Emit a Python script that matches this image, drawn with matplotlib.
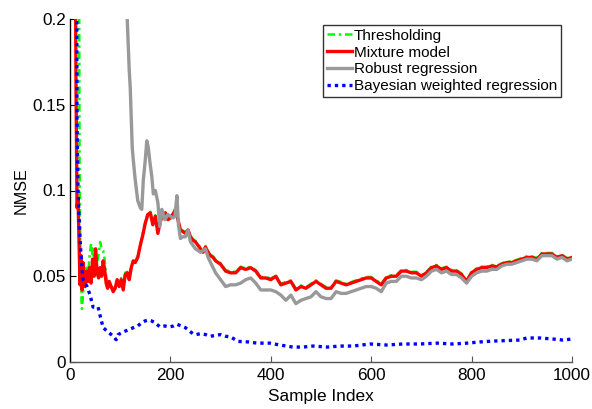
import matplotlib
matplotlib.use("Agg")
import matplotlib.pyplot as plt

plt.rcParams['font.family'] = ['Liberation Sans', 'DejaVu Sans']

# ---------------- data ----------------
x_mix = [8, 12, 14, 16, 18, 20, 22, 24, 26, 28, 30, 33, 36, 39, 42, 45, 48, 51, 54, 57,
         60, 63, 66, 69, 72, 75, 78, 82, 86, 90, 94, 98, 102, 106, 110, 114, 118, 122, 126, 130,
         135, 140, 145, 150, 155, 160, 165, 170, 175, 180, 185, 190, 195, 200, 205, 210, 215, 220, 225, 230,
         235, 240, 245, 250, 255, 260, 265, 270, 275, 280, 285, 290, 295, 300, 310, 320, 330, 340, 350, 360,
         370, 380, 390, 400, 410, 420, 430, 440, 450, 460, 470, 480, 490, 500, 510, 520, 530, 540, 550, 560,
         570, 580, 590, 600, 610, 620, 630, 640, 650, 660, 670, 680, 690, 700, 710, 720, 730, 740, 750, 760,
         770, 780, 790, 800, 810, 820, 830, 840, 850, 860, 870, 880, 890, 900, 910, 920, 930, 940, 950, 960,
         970, 980, 990, 1000]
y_mix = [0.40, 0.16, 0.09, 0.095, 0.07, 0.045, 0.062, 0.042, 0.058, 0.05, 0.044, 0.053, 0.047, 0.055, 0.046, 0.06, 0.05, 0.066, 0.052, 0.049,
         0.055, 0.05, 0.059, 0.054, 0.046, 0.043, 0.047, 0.044, 0.041, 0.043, 0.048, 0.044, 0.048, 0.042, 0.051, 0.052, 0.048, 0.055, 0.059, 0.058,
         0.061, 0.068, 0.074, 0.081, 0.086, 0.087, 0.080, 0.085, 0.075, 0.082, 0.086, 0.087, 0.083, 0.084, 0.086, 0.089, 0.083, 0.077, 0.076, 0.075,
         0.077, 0.073, 0.071, 0.070, 0.068, 0.066, 0.064, 0.067, 0.064, 0.062, 0.061, 0.059, 0.058, 0.057, 0.053, 0.052, 0.052, 0.055, 0.054, 0.055,
         0.053, 0.049, 0.049, 0.048, 0.050, 0.045, 0.046, 0.047, 0.042, 0.044, 0.043, 0.045, 0.047, 0.045, 0.043, 0.043, 0.047, 0.046, 0.045, 0.046,
         0.047, 0.048, 0.049, 0.049, 0.047, 0.045, 0.049, 0.050, 0.050, 0.053, 0.053, 0.052, 0.052, 0.050, 0.052, 0.055, 0.056, 0.054, 0.055, 0.053,
         0.053, 0.051, 0.047, 0.052, 0.054, 0.055, 0.055, 0.056, 0.0555, 0.057, 0.058, 0.058, 0.059, 0.060, 0.061, 0.061, 0.060, 0.063, 0.063, 0.063,
         0.061, 0.062, 0.060, 0.061]

x_thr = [17, 19, 20, 21, 22, 23, 24, 26, 28, 30, 33, 36, 39, 42, 44, 46, 48, 51, 54, 57,
         60, 63, 66, 69, 72, 75, 78, 82, 86, 90, 94, 98, 102, 106, 110, 114, 118, 122, 126, 130,
         135, 140, 145, 150, 155, 160, 165, 170, 175, 180, 185, 190, 195, 200, 205, 210, 215, 220, 225, 230,
         235, 240, 245, 250, 255, 260, 265, 270, 275, 280, 285, 290, 295, 300, 310, 320, 330, 340, 350, 360,
         370, 380, 390, 400, 410, 420, 430, 440, 450, 460, 470, 480, 490, 500, 510, 520, 530, 540, 550, 560,
         570, 580, 590, 600, 610, 620, 630, 640, 650, 660, 670, 680, 690, 700, 710, 720, 730, 740, 750, 760,
         770, 780, 790, 800, 810, 820, 830, 840, 850, 860, 870, 880, 890, 900, 910, 920, 930, 940, 950, 960,
         970, 980, 990, 1000]
y_thr = [0.40, 0.12, 0.08, 0.06, 0.045, 0.035, 0.031, 0.040, 0.048, 0.050, 0.055, 0.050, 0.062, 0.069, 0.063, 0.066, 0.058, 0.062, 0.058, 0.063,
         0.070, 0.066, 0.065, 0.060, 0.050, 0.046, 0.047, 0.045, 0.042, 0.044, 0.049, 0.045, 0.049, 0.043, 0.052, 0.0526, 0.0486, 0.0556, 0.0596, 0.0586,
         0.0616, 0.0686, 0.0746, 0.0816, 0.0866, 0.0876, 0.0806, 0.0856, 0.0756, 0.0826, 0.0866, 0.0876, 0.0836, 0.0846, 0.0866, 0.0896, 0.0836, 0.0776, 0.0766, 0.0756,
         0.0776, 0.0736, 0.0716, 0.0706, 0.0686, 0.0666, 0.0646, 0.0676, 0.0646, 0.0626, 0.0616, 0.0596, 0.0586, 0.0576, 0.0536, 0.0526, 0.0526, 0.0556, 0.0546, 0.0556,
         0.0536, 0.0496, 0.0496, 0.0486, 0.0506, 0.0456, 0.0466, 0.0476, 0.0426, 0.0446, 0.0436, 0.0456, 0.0476, 0.0456, 0.0436, 0.0436, 0.0476, 0.0466, 0.0456, 0.0466,
         0.0476, 0.0486, 0.0496, 0.0496, 0.0476, 0.0456, 0.0496, 0.0506, 0.0506, 0.0536, 0.0536, 0.0526, 0.0526, 0.0506, 0.0526, 0.0556, 0.0566, 0.0546, 0.0556, 0.0536,
         0.0536, 0.0516, 0.0476, 0.0526, 0.0546, 0.0556, 0.0556, 0.0566, 0.0561, 0.0576, 0.0586, 0.0586, 0.0596, 0.0606, 0.0616, 0.0616, 0.0606, 0.0636, 0.0636, 0.0636,
         0.0616, 0.0626, 0.0606, 0.0616]

x_rob = [112, 114, 118, 120, 124, 126, 130, 135, 140, 143, 146, 150, 153, 156, 159, 163, 166, 170, 175, 179,
         183, 189, 195, 200, 205, 209, 213, 216, 220, 225, 230, 235, 240, 245, 250, 255, 260, 265, 270, 275,
         280, 285, 290, 295, 300, 310, 320, 330, 340, 350, 360, 370, 380, 390, 400, 410, 420, 430, 440, 450,
         460, 470, 480, 490, 500, 510, 520, 530, 540, 550, 560, 570, 580, 590, 600, 610, 620, 630, 640, 650,
         660, 670, 680, 690, 700, 710, 720, 730, 740, 750, 760, 770, 780, 790, 800, 810, 820, 830, 840, 850,
         860, 870, 880, 890, 900, 910, 920, 930, 940, 950, 960, 970, 980, 990, 1000]
y_rob = [0.215, 0.200, 0.170, 0.160, 0.125, 0.118, 0.106, 0.094, 0.090, 0.089, 0.106, 0.118, 0.129, 0.125, 0.117, 0.108, 0.098, 0.100, 0.093, 0.079,
         0.089, 0.083, 0.086, 0.085, 0.084, 0.085, 0.097, 0.080, 0.072, 0.073, 0.073, 0.077, 0.070, 0.068, 0.066, 0.065, 0.064, 0.065, 0.066, 0.061,
         0.058, 0.055, 0.052, 0.050, 0.048, 0.044, 0.045, 0.045, 0.046, 0.048, 0.049, 0.046, 0.042, 0.042, 0.042, 0.041, 0.039, 0.036, 0.039, 0.034,
         0.036, 0.037, 0.038, 0.041, 0.038, 0.037, 0.037, 0.041, 0.040, 0.040, 0.041, 0.042, 0.043, 0.044, 0.044, 0.043, 0.041, 0.046, 0.047, 0.047,
         0.050, 0.050, 0.049, 0.049, 0.048, 0.050, 0.053, 0.054, 0.052, 0.053, 0.051, 0.051, 0.049, 0.046, 0.050, 0.052, 0.053, 0.053, 0.054, 0.054,
         0.056, 0.057, 0.057, 0.058, 0.059, 0.060, 0.060, 0.059, 0.062, 0.062, 0.062, 0.060, 0.061, 0.059, 0.060]

x_bay = [12, 14, 15, 16, 18, 20, 22, 24, 26, 30, 34, 40, 46, 52, 56, 60, 66, 70, 76, 86,
         92, 96, 106, 118, 126, 135, 143, 150, 156, 162, 169, 179, 189, 199, 206, 213, 222, 230, 238, 245,
         252, 259, 270, 279, 290, 300, 310, 320, 335, 355, 373, 398, 418, 444, 464, 484, 512, 538, 564, 598,
         631, 663, 697, 731, 763, 791, 817, 843, 870, 896, 910, 936, 962, 982, 1000]
y_bay = [0.35, 0.14, 0.12, 0.10, 0.085, 0.072, 0.062, 0.054, 0.048, 0.046, 0.044, 0.039, 0.032, 0.032, 0.032, 0.027, 0.020, 0.019, 0.0175, 0.015,
         0.013, 0.016, 0.0175, 0.019, 0.020, 0.021, 0.023, 0.024, 0.0245, 0.024, 0.023, 0.0205, 0.021, 0.0205, 0.021, 0.022, 0.021, 0.020, 0.018, 0.0165,
         0.016, 0.0165, 0.016, 0.015, 0.0155, 0.016, 0.015, 0.0146, 0.012, 0.0117, 0.011, 0.011, 0.0099, 0.0087, 0.0087, 0.0093, 0.0087, 0.0093, 0.0093, 0.0105,
         0.0099, 0.0105, 0.0105, 0.011, 0.0105, 0.011, 0.0117, 0.0122, 0.0125, 0.0128, 0.014, 0.014, 0.0134, 0.0128, 0.0134]

labels = ['Thresholding', 'Mixture model', 'Robust regression', 'Bayesian weighted regression']
x_ticks = [0, 200, 400, 600, 800, 1000]
y_ticks = [0, 0.05, 0.1, 0.15, 0.2]
y_ticklabels = ['0', '0.05', '0.1', '0.15', '0.2']

# ---------------- plot ----------------
fig = plt.figure(figsize=(5.92, 4.09), dpi=100)
ax = fig.add_axes([70/592, 1-362/409, 502/592, 343/409])

ax.plot(x_thr, y_thr, color='#00ff00', lw=1.8, linestyle=(0, (3.0, 1.5, 1.0, 1.5)), label=labels[0])
ax.plot(x_mix, y_mix, color='#ff0000', lw=2.4, label=labels[1])
ax.plot(x_rob, y_rob, color='#999999', lw=2.4, label=labels[2])
ax.plot(x_bay, y_bay, color='#0000ff', lw=2.4, linestyle=(0, (1.0, 1.2)), label=labels[3])

ax.set_xlim(0, 1000)
ax.set_ylim(0, 0.2)
ax.set_xticks(x_ticks)
ax.set_yticks(y_ticks)
ax.set_yticklabels(y_ticklabels)
ax.tick_params(direction='in', length=4, labelsize=12.3, width=0.8)
ax.tick_params(axis='x', colors='#555555', labelcolor='black', pad=4)
ax.tick_params(axis='y', pad=3)
ax.spines['top'].set_visible(False)
ax.spines['right'].set_visible(False)
ax.spines['left'].set_linewidth(1.0)
ax.spines['left'].set_color('black')
ax.spines['bottom'].set_linewidth(1.0)
ax.spines['bottom'].set_color('#555555')

ax.set_xlabel('Sample Index', fontsize=12.4, labelpad=5)
ax.set_ylabel('NMSE', fontsize=11.6, labelpad=3)

leg = ax.legend(loc='upper right', bbox_to_anchor=(0.978, 0.9825), borderaxespad=0,
                fontsize=11, frameon=True, fancybox=False, handlelength=1.6,
                handletextpad=0.15, labelspacing=0.18, borderpad=0.25)
leg.get_frame().set_edgecolor('black')
leg.get_frame().set_linewidth(1.0)

fig.savefig('out.png', dpi=100)
